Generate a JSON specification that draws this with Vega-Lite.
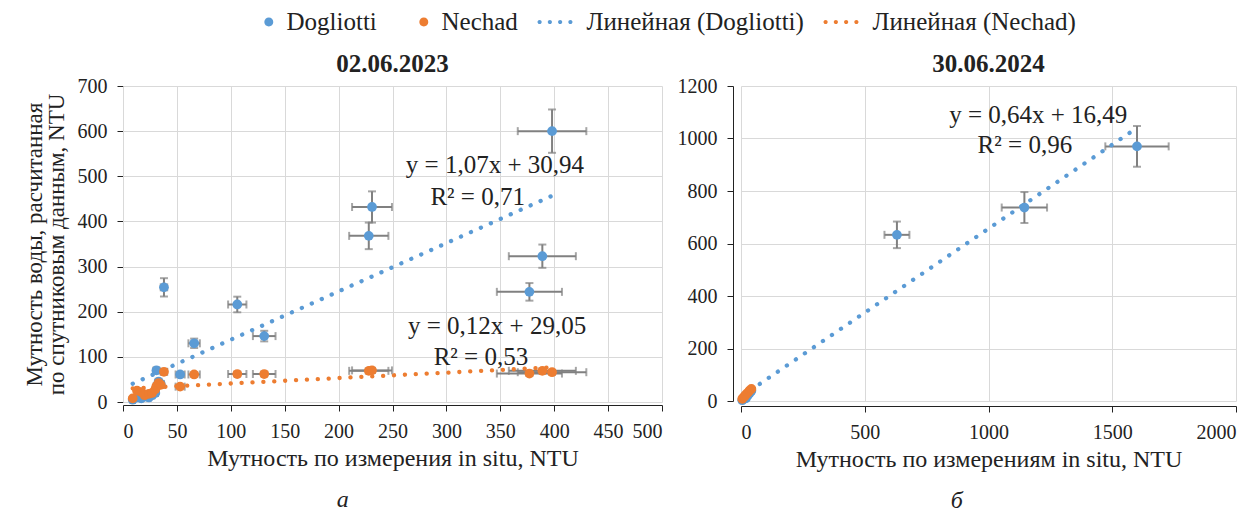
{
  "$schema": "https://vega.github.io/schema/vega-lite/v6.json",
  "padding": {"left": 23, "top": 8, "right": 5, "bottom": 0},
  "datasets": {
    "all": [
      {"p":"a","d":"02.06.2023","k":"pt","s":"Dogliotti","x":9,"y":5,"xe":0.7,"ye":0.4},
      {"p":"a","d":"02.06.2023","k":"pt","s":"Dogliotti","x":13,"y":10,"xe":1.0,"ye":0.8},
      {"p":"a","d":"02.06.2023","k":"pt","s":"Dogliotti","x":17,"y":8,"xe":1.4,"ye":0.6},
      {"p":"a","d":"02.06.2023","k":"pt","s":"Dogliotti","x":20,"y":12,"xe":1.6,"ye":1.0},
      {"p":"a","d":"02.06.2023","k":"pt","s":"Dogliotti","x":24,"y":10,"xe":1.9,"ye":0.8},
      {"p":"a","d":"02.06.2023","k":"pt","s":"Dogliotti","x":27,"y":15,"xe":2.2,"ye":1.2},
      {"p":"a","d":"02.06.2023","k":"pt","s":"Dogliotti","x":30,"y":20,"xe":2.4,"ye":1.6},
      {"p":"a","d":"02.06.2023","k":"pt","s":"Dogliotti","x":31,"y":70,"xe":2.5,"ye":5.6},
      {"p":"a","d":"02.06.2023","k":"pt","s":"Dogliotti","x":33,"y":45,"xe":2.6,"ye":3.6},
      {"p":"a","d":"02.06.2023","k":"pt","s":"Dogliotti","x":35,"y":40,"xe":2.8,"ye":3.2},
      {"p":"a","d":"02.06.2023","k":"pt","s":"Dogliotti","x":38,"y":254,"xe":3.0,"ye":20.3},
      {"p":"a","d":"02.06.2023","k":"pt","s":"Dogliotti","x":53,"y":61,"xe":4.2,"ye":4.9},
      {"p":"a","d":"02.06.2023","k":"pt","s":"Dogliotti","x":66,"y":130,"xe":5.3,"ye":10.4},
      {"p":"a","d":"02.06.2023","k":"pt","s":"Dogliotti","x":106,"y":216,"xe":8.5,"ye":17.3},
      {"p":"a","d":"02.06.2023","k":"pt","s":"Dogliotti","x":131,"y":146,"xe":10.5,"ye":11.7},
      {"p":"a","d":"02.06.2023","k":"pt","s":"Dogliotti","x":228,"y":368,"xe":18.2,"ye":29.4},
      {"p":"a","d":"02.06.2023","k":"pt","s":"Dogliotti","x":231,"y":432,"xe":18.5,"ye":34.6},
      {"p":"a","d":"02.06.2023","k":"pt","s":"Dogliotti","x":377,"y":244,"xe":30.2,"ye":19.5},
      {"p":"a","d":"02.06.2023","k":"pt","s":"Dogliotti","x":389,"y":323,"xe":31.1,"ye":25.8},
      {"p":"a","d":"02.06.2023","k":"pt","s":"Dogliotti","x":398,"y":600,"xe":31.8,"ye":48},
      {"p":"a","d":"02.06.2023","k":"pt","s":"Nechad","x":9,"y":8,"xe":0.7,"ye":0.6},
      {"p":"a","d":"02.06.2023","k":"pt","s":"Nechad","x":13,"y":25,"xe":1.0,"ye":2.0},
      {"p":"a","d":"02.06.2023","k":"pt","s":"Nechad","x":17,"y":22,"xe":1.4,"ye":1.8},
      {"p":"a","d":"02.06.2023","k":"pt","s":"Nechad","x":20,"y":15,"xe":1.6,"ye":1.2},
      {"p":"a","d":"02.06.2023","k":"pt","s":"Nechad","x":24,"y":18,"xe":1.9,"ye":1.4},
      {"p":"a","d":"02.06.2023","k":"pt","s":"Nechad","x":27,"y":20,"xe":2.2,"ye":1.6},
      {"p":"a","d":"02.06.2023","k":"pt","s":"Nechad","x":30,"y":28,"xe":2.4,"ye":2.2},
      {"p":"a","d":"02.06.2023","k":"pt","s":"Nechad","x":31,"y":35,"xe":2.5,"ye":2.8},
      {"p":"a","d":"02.06.2023","k":"pt","s":"Nechad","x":33,"y":42,"xe":2.6,"ye":3.4},
      {"p":"a","d":"02.06.2023","k":"pt","s":"Nechad","x":35,"y":38,"xe":2.8,"ye":3.0},
      {"p":"a","d":"02.06.2023","k":"pt","s":"Nechad","x":38,"y":67,"xe":3.0,"ye":5.4},
      {"p":"a","d":"02.06.2023","k":"pt","s":"Nechad","x":53,"y":34,"xe":4.2,"ye":2.7},
      {"p":"a","d":"02.06.2023","k":"pt","s":"Nechad","x":66,"y":61,"xe":5.3,"ye":4.9},
      {"p":"a","d":"02.06.2023","k":"pt","s":"Nechad","x":106,"y":62,"xe":8.5,"ye":5.0},
      {"p":"a","d":"02.06.2023","k":"pt","s":"Nechad","x":131,"y":62,"xe":10.5,"ye":5.0},
      {"p":"a","d":"02.06.2023","k":"pt","s":"Nechad","x":228,"y":69,"xe":18.2,"ye":5.5},
      {"p":"a","d":"02.06.2023","k":"pt","s":"Nechad","x":231,"y":70,"xe":18.5,"ye":5.6},
      {"p":"a","d":"02.06.2023","k":"pt","s":"Nechad","x":377,"y":63,"xe":30.2,"ye":5.0},
      {"p":"a","d":"02.06.2023","k":"pt","s":"Nechad","x":389,"y":69,"xe":31.1,"ye":5.5},
      {"p":"a","d":"02.06.2023","k":"pt","s":"Nechad","x":398,"y":66,"xe":31.8,"ye":5.3},
      {"p":"b","d":"30.06.2024","k":"pt","s":"Dogliotti","x":5,"y":3,"xe":0.4,"ye":0.2},
      {"p":"b","d":"30.06.2024","k":"pt","s":"Dogliotti","x":10,"y":8,"xe":0.8,"ye":0.6},
      {"p":"b","d":"30.06.2024","k":"pt","s":"Dogliotti","x":15,"y":14,"xe":1.2,"ye":1.1},
      {"p":"b","d":"30.06.2024","k":"pt","s":"Dogliotti","x":20,"y":10,"xe":1.6,"ye":0.8},
      {"p":"b","d":"30.06.2024","k":"pt","s":"Dogliotti","x":28,"y":22,"xe":2.2,"ye":1.8},
      {"p":"b","d":"30.06.2024","k":"pt","s":"Dogliotti","x":35,"y":30,"xe":2.8,"ye":2.4},
      {"p":"b","d":"30.06.2024","k":"pt","s":"Dogliotti","x":42,"y":39,"xe":3.4,"ye":3.1},
      {"p":"b","d":"30.06.2024","k":"pt","s":"Dogliotti","x":630,"y":633,"xe":50.4,"ye":50.6},
      {"p":"b","d":"30.06.2024","k":"pt","s":"Dogliotti","x":1145,"y":737,"xe":91.6,"ye":59},
      {"p":"b","d":"30.06.2024","k":"pt","s":"Dogliotti","x":1600,"y":970,"xe":128,"ye":77.6},
      {"p":"b","d":"30.06.2024","k":"pt","s":"Nechad","x":5,"y":8,"xe":0.4,"ye":0.6},
      {"p":"b","d":"30.06.2024","k":"pt","s":"Nechad","x":10,"y":14,"xe":0.8,"ye":1.1},
      {"p":"b","d":"30.06.2024","k":"pt","s":"Nechad","x":15,"y":18,"xe":1.2,"ye":1.4},
      {"p":"b","d":"30.06.2024","k":"pt","s":"Nechad","x":20,"y":25,"xe":1.6,"ye":2.0},
      {"p":"b","d":"30.06.2024","k":"pt","s":"Nechad","x":28,"y":32,"xe":2.2,"ye":2.6},
      {"p":"b","d":"30.06.2024","k":"pt","s":"Nechad","x":35,"y":40,"xe":2.8,"ye":3.2},
      {"p":"b","d":"30.06.2024","k":"pt","s":"Nechad","x":42,"y":46,"xe":3.4,"ye":3.7},
      {"p":"a","d":"02.06.2023","k":"tr","s":"Линейная (Dogliotti)","x":9,"y":40.6},
      {"p":"a","d":"02.06.2023","k":"tr","s":"Линейная (Dogliotti)","x":398,"y":456.8},
      {"p":"a","d":"02.06.2023","k":"tr","s":"Линейная (Nechad)","x":9,"y":30.1},
      {"p":"a","d":"02.06.2023","k":"tr","s":"Линейная (Nechad)","x":398,"y":76.8},
      {"p":"b","d":"30.06.2024","k":"tr","s":"Линейная (Dogliotti)","x":3,"y":18.4},
      {"p":"b","d":"30.06.2024","k":"tr","s":"Линейная (Dogliotti)","x":1600,"y":1040.5},
      {"p":"a","d":"02.06.2023","k":"nt","x":345,"y":524,"t":"y = 1,07x + 30,94"},
      {"p":"a","d":"02.06.2023","k":"nt","x":329,"y":454,"t":"R² = 0,71"},
      {"p":"a","d":"02.06.2023","k":"nt","x":347,"y":169,"t":"y = 0,12x + 29,05"},
      {"p":"a","d":"02.06.2023","k":"nt","x":332,"y":99,"t":"R² = 0,53"},
      {"p":"b","d":"30.06.2024","k":"nt","x":1201,"y":1091,"t":"y = 0,64x + 16,49"},
      {"p":"b","d":"30.06.2024","k":"nt","x":1147,"y":977,"t":"R² = 0,96"}
    ]
  },
  "spacing": 14,
  "hconcat": [
    {
      "data": {"name": "all"},
      "transform": [{"filter": {"field": "p", "equal": "a"}}],
      "title": {"text": "а", "orient": "bottom", "anchor": "middle", "fontStyle": "italic", "fontWeight": "normal", "fontSize": 24, "offset": 18},
      "facet": {"column": {"field": "d", "type": "nominal", "title": null, "header": {"labelFont": "Liberation Serif", "labelFontSize": 25, "labelFontWeight": "bold", "labelColor": "#222", "labelPadding": 9}}},
      "spec": {
        "width": 539,
        "height": 316,
        "layer": [
          {
            "transform": [{"filter": {"field": "k", "equal": "pt"}}],
            "mark": {"type": "errorbar", "ticks": true, "size": 8, "thickness": 2, "color": "#808080"},
            "encoding": {
              "x": {"field": "x", "type": "quantitative", "scale": {"domain": [0, 500], "nice": false}},
              "xError": {"field": "xe"},
              "y": {"field": "y", "type": "quantitative", "scale": {"domain": [0, 700], "nice": false}}
            }
          },
          {
            "transform": [{"filter": {"field": "k", "equal": "pt"}}],
            "mark": {"type": "errorbar", "ticks": true, "size": 8, "thickness": 2, "color": "#808080"},
            "encoding": {
              "y": {"field": "y", "type": "quantitative"},
              "yError": {"field": "ye"},
              "x": {"field": "x", "type": "quantitative"}
            }
          },
          {
            "transform": [{"filter": {"field": "k", "equal": "tr"}}],
            "mark": {"type": "line", "strokeDash": [0.1, 10.8], "strokeCap": "round", "strokeWidth": 4.3},
            "encoding": {
              "x": {"field": "x", "type": "quantitative"},
              "y": {"field": "y", "type": "quantitative"},
              "stroke": {"field": "s", "type": "nominal", "scale": {"domain": ["Линейная (Dogliotti)", "Линейная (Nechad)"], "range": ["#5B9BD5", "#ED7D31"]}, "legend": null},
              "detail": {"field": "s"}
            }
          },
          {
            "transform": [{"filter": {"field": "k", "equal": "pt"}}],
            "mark": {"type": "point", "shape": "circle", "filled": true, "opacity": 1, "size": 95},
            "encoding": {
              "x": {"field": "x", "type": "quantitative"},
              "y": {"field": "y", "type": "quantitative"},
              "fill": {"field": "s", "type": "nominal", "scale": {"domain": ["Dogliotti", "Nechad"], "range": ["#5B9BD5", "#ED7D31"]}, "legend": null}
            }
          },
          {
            "transform": [{"filter": {"field": "k", "equal": "none"}}],
            "mark": {"type": "point", "filled": true, "opacity": 1},
            "encoding": {
              "x": {"field": "x", "type": "quantitative"},
              "y": {"field": "y", "type": "quantitative"},
              "color": {"field": "s", "type": "nominal",
                "scale": {"domain": ["Dogliotti", "Nechad", "Линейная (Dogliotti)", "Линейная (Nechad)"], "range": ["#5B9BD5", "#ED7D31", "#5B9BD5", "#ED7D31"]},
                "legend": {"title": " ", "titleOrient": "left", "titlePadding": 58, "labelFont": "Liberation Serif", "labelLimit": 0}},
              "shape": {"field": "s", "type": "nominal",
                "scale": {"domain": ["Dogliotti", "Nechad", "Линейная (Dogliotti)", "Линейная (Nechad)"], "range": [
                  "M0.666,0A0.32,0.32,0,1,1,1.306,0A0.32,0.32,0,1,1,0.666,0Z",
                  "M0.666,0A0.32,0.32,0,1,1,1.306,0A0.32,0.32,0,1,1,0.666,0Z",
                  "M-1.25,0A0.15,0.15,0,1,1,-0.95,0A0.15,0.15,0,1,1,-1.25,0Z M-0.517,0A0.15,0.15,0,1,1,-0.217,0A0.15,0.15,0,1,1,-0.517,0Z M0.217,0A0.15,0.15,0,1,1,0.517,0A0.15,0.15,0,1,1,0.217,0Z M0.95,0A0.15,0.15,0,1,1,1.25,0A0.15,0.15,0,1,1,0.95,0Z",
                  "M-1.25,0A0.15,0.15,0,1,1,-0.95,0A0.15,0.15,0,1,1,-1.25,0Z M-0.517,0A0.15,0.15,0,1,1,-0.217,0A0.15,0.15,0,1,1,-0.517,0Z M0.217,0A0.15,0.15,0,1,1,0.517,0A0.15,0.15,0,1,1,0.217,0Z M0.95,0A0.15,0.15,0,1,1,1.25,0A0.15,0.15,0,1,1,0.95,0Z"
                ]},
                "legend": {"title": " ", "titleOrient": "left", "titlePadding": 58, "labelFont": "Liberation Serif", "labelLimit": 0}}
            }
          },
          {
            "transform": [{"filter": {"field": "k", "equal": "nt"}}],
            "mark": {"type": "text", "fontSize": 25, "color": "#222", "align": "center", "baseline": "middle"},
            "encoding": {
              "x": {"field": "x", "type": "quantitative"},
              "y": {"field": "y", "type": "quantitative"},
              "text": {"field": "t"}
            }
          }
        ],
        "encoding": {
          "x": {"axis": {"values": [0,50,100,150,200,250,300,350,400,450,500], "format": "d", "title": "Мутность по измерения in situ, NTU"}},
          "y": {"axis": {"values": [0,100,200,300,400,500,600,700], "format": "d", "title": ["Мутность воды, расчитанная", "по спутниковым данным, NTU"], "titleFontSize": 23, "titleLineHeight": 22, "titlePadding": 9}}
        }
      }
    },
    {
      "data": {"name": "all"},
      "transform": [{"filter": {"field": "p", "equal": "b"}}],
      "title": {"text": "б", "orient": "bottom", "anchor": "middle", "fontStyle": "italic", "fontWeight": "normal", "fontSize": 24, "offset": 18},
      "facet": {"column": {"field": "d", "type": "nominal", "title": null, "header": {"labelFont": "Liberation Serif", "labelFontSize": 25, "labelFontWeight": "bold", "labelColor": "#222", "labelPadding": 9}}},
      "spec": {
        "width": 495,
        "height": 315,
        "layer": [
          {
            "transform": [{"filter": {"field": "k", "equal": "pt"}}],
            "mark": {"type": "errorbar", "ticks": true, "size": 8, "thickness": 2, "color": "#808080"},
            "encoding": {
              "x": {"field": "x", "type": "quantitative", "scale": {"domain": [0, 2000], "nice": false}},
              "xError": {"field": "xe"},
              "y": {"field": "y", "type": "quantitative", "scale": {"domain": [0, 1200], "nice": false}}
            }
          },
          {
            "transform": [{"filter": {"field": "k", "equal": "pt"}}],
            "mark": {"type": "errorbar", "ticks": true, "size": 8, "thickness": 2, "color": "#808080"},
            "encoding": {
              "y": {"field": "y", "type": "quantitative"},
              "yError": {"field": "ye"},
              "x": {"field": "x", "type": "quantitative"}
            }
          },
          {
            "transform": [{"filter": {"field": "k", "equal": "tr"}}],
            "mark": {"type": "line", "strokeDash": [0.1, 10.8], "strokeCap": "round", "strokeWidth": 4.3},
            "encoding": {
              "x": {"field": "x", "type": "quantitative"},
              "y": {"field": "y", "type": "quantitative"},
              "stroke": {"field": "s", "type": "nominal", "legend": null},
              "detail": {"field": "s"}
            }
          },
          {
            "transform": [{"filter": {"field": "k", "equal": "pt"}}],
            "mark": {"type": "point", "shape": "circle", "filled": true, "opacity": 1, "size": 95},
            "encoding": {
              "x": {"field": "x", "type": "quantitative"},
              "y": {"field": "y", "type": "quantitative"},
              "fill": {"field": "s", "type": "nominal", "legend": null}
            }
          },
          {
            "transform": [{"filter": {"field": "k", "equal": "nt"}}],
            "mark": {"type": "text", "fontSize": 25, "color": "#222", "align": "center", "baseline": "middle"},
            "encoding": {
              "x": {"field": "x", "type": "quantitative"},
              "y": {"field": "y", "type": "quantitative"},
              "text": {"field": "t"}
            }
          }
        ],
        "encoding": {
          "x": {"axis": {"values": [0,500,1000,1500,2000], "format": "d", "title": "Мутность по измерениям in situ, NTU"}},
          "y": {"axis": {"values": [0,200,400,600,800,1000,1200], "format": "d", "title": null}}
        }
      }
    }
  ],
  "resolve": {"scale": {"color": "shared", "shape": "shared", "stroke": "shared", "fill": "shared"}},
  "config": {
    "font": "Liberation Serif",
    "view": {"stroke": null},
    "axis": {
      "labelFont": "Liberation Serif", "labelFontSize": 20, "labelColor": "#222",
      "titleFont": "Liberation Serif", "titleFontSize": 24, "titleFontWeight": "normal", "titleColor": "#222",
      "gridColor": "#d9d9d9", "gridWidth": 1, "domainColor": "#222", "tickColor": "#222",
      "tickSize": 6, "labelPadding": 10, "titlePadding": 5
    },
    "legend": {
      "orient": "top", "direction": "horizontal",
      "labelFont": "Liberation Serif", "labelFontSize": 25, "labelColor": "#222", "labelLimit": 0,
      "symbolSize": 784, "symbolStrokeWidth": 0, "columnPadding": 19, "labelOffset": 17.5, "offset": 17,
      "layout": {"top": {"anchor": "middle"}}
    },
    "title": {"font": "Liberation Serif", "color": "#222"}
  }
}
